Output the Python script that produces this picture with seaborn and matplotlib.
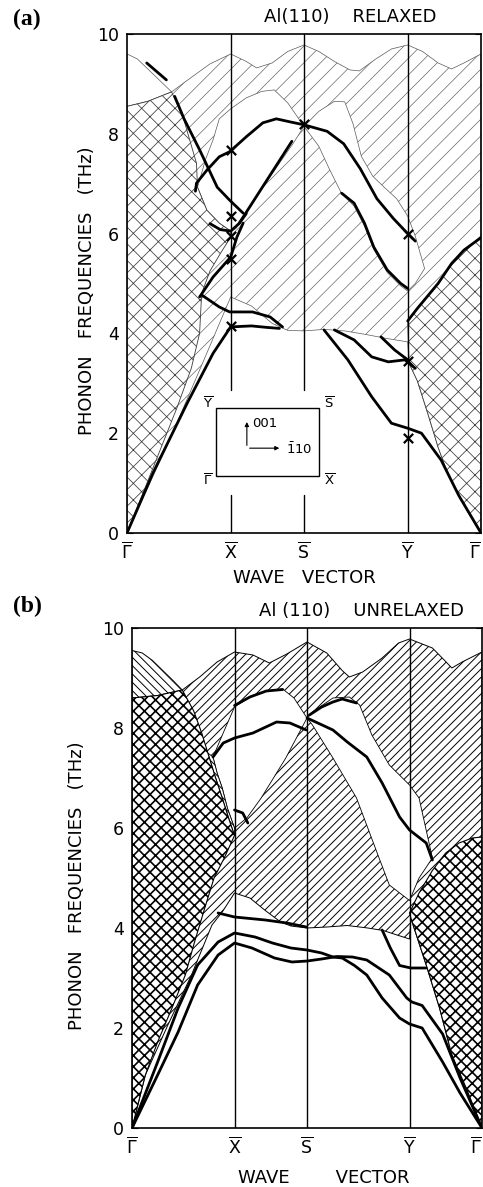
import numpy as np
import matplotlib
matplotlib.use("Agg")
import matplotlib.pyplot as plt
import seaborn as sns
from matplotlib.patches import Rectangle

# ---------------- symmetry points (surface Brillouin zone path) ----------------
K_LABELS = [r"$\overline{\Gamma}$", r"$\overline{\mathrm{X}}$", r"$\overline{\mathrm{S}}$",
            r"$\overline{\mathrm{Y}}$", r"$\overline{\Gamma}$"]
K_POS = [0.0, 1.0, 1.707, 2.707, 3.414]
Y_MAJOR = [0, 2, 4, 6, 8, 10]
Y_MINOR = [1, 3, 5, 7, 9]

# ================= Panel (a): relaxed =================
A_TOP_X = [0.43, 0.6, 0.8, 1.0, 1.15, 1.25, 1.4, 1.55, 1.707, 1.85, 2.0, 2.15, 2.24, 2.4, 2.55,
           2.707, 2.85, 3.0, 3.13, 3.25, 3.414]
A_TOP_Y = [8.84, 9.1, 9.4, 9.6, 9.45, 9.32, 9.42, 9.65, 9.78, 9.65, 9.45, 9.28, 9.26, 9.5, 9.7,
           9.78, 9.65, 9.42, 9.3, 9.42, 9.6]
A_SLASH_LOW_X = [0, 0.41, 0.73, 1.0, 1.2, 1.4, 1.55, 1.707, 1.9, 2.1, 2.3, 2.5, 2.707, 2.72, 2.8,
                 2.9, 3.0, 3.1, 3.2, 3.3, 3.414]
A_SLASH_LOW_Y = [0, 1.86, 3.41, 4.73, 4.55, 4.2, 4.06, 4.05, 4.08, 4.05, 3.98, 3.9, 3.83, 3.4, 3.05,
                 2.4, 1.72, 1.15, 0.75, 0.38, 0]
A_XL_UP_X = [0, 0.2, 0.43, 0.54, 0.67, 0.68, 0.77, 0.89, 1.0]
A_XL_UP_Y = [8.55, 8.65, 8.84, 8.34, 7.41, 6.93, 6.47, 6.21, 6.05]
A_XL_LO_X = [1.0, 0.9, 0.8, 0.72, 0.70, 0.62, 0.48, 0.25, 0]
A_XL_LO_Y = [5.93, 5.6, 5.25, 4.8, 4.0, 3.3, 2.5, 1.3, 0]
A_TL_X = [0, 0, 0.1, 0.2, 0.3, 0.43, 0.2]
A_TL_Y = [8.55, 9.6, 9.5, 9.3, 9.1, 8.84, 8.65]
A_GAP1_X = [0.68, 0.76, 0.83, 0.89, 1.0, 1.15, 1.3, 1.42, 1.55, 1.707, 1.6, 1.45, 1.3, 1.15, 1.05,
            1.0, 0.89, 0.77]
A_GAP1_Y = [6.93, 7.5, 7.88, 8.3, 8.5, 8.72, 8.85, 8.88, 8.62, 8.15, 7.8, 7.35, 6.9, 6.4, 6.1,
            6.05, 6.21, 6.47]
A_GAP2_X = [1.707, 1.85, 2.0, 2.1, 2.18, 2.26, 2.37, 2.48, 2.6, 2.707, 2.78, 2.87, 2.78, 2.707,
            2.64, 2.51, 2.38, 2.29, 2.19, 2.07, 1.95, 1.85]
A_GAP2_Y = [8.15, 8.45, 8.65, 8.64, 8.2, 7.55, 7.15, 6.93, 6.7, 6.35, 5.95, 5.3, 5.0, 4.85,
            4.95, 5.22, 5.68, 6.15, 6.55, 6.8, 7.3, 7.75]
A_XR_X = [2.707, 2.8, 2.9, 3.0, 3.13, 3.25, 3.414, 3.414, 3.3, 3.2, 3.1, 3.0, 2.9, 2.8, 2.72]
A_XR_Y = [4.25, 4.5, 4.75, 5.0, 5.4, 5.67, 5.92, 0, 0.38, 0.75, 1.15, 1.72, 2.4, 3.05, 3.4]

# surface-mode branches (a)
A_LINES = {
    "a1": ([0, 0.25, 0.58, 0.83, 1.0, 1.2, 1.35, 1.47], [0, 1.2, 2.6, 3.6, 4.13, 4.15, 4.12, 4.1]),
    "a2": ([1.9, 2.13, 2.36, 2.55, 2.707, 2.84, 3.03, 3.2, 3.414], [4.07, 3.47, 2.73, 2.2, 2.1, 2.0, 1.46, 0.75, 0]),
    "a3": ([2.0, 2.19, 2.36, 2.52, 2.68, 2.78], [4.07, 3.87, 3.53, 3.43, 3.47, 3.3]),
    "a3b": ([2.45, 2.58, 2.707], [3.93, 3.67, 3.47]),
    "a4": ([0.72, 0.89, 0.99, 1.21, 1.38, 1.5], [4.77, 4.53, 4.43, 4.43, 4.33, 4.13]),
    "a5": ([0.70, 0.83, 1.0, 1.06, 1.12], [4.73, 5.13, 5.53, 5.93, 6.21]),
    "a6": ([1.08, 1.59], [6.2, 7.85]),
    "a7": ([0.66, 0.67, 0.77, 0.89, 0.99, 1.15, 1.31, 1.44, 1.57, 1.707, 1.93, 2.09, 2.25, 2.41,
            2.57, 2.707, 2.78],
           [6.85, 7.01, 7.27, 7.54, 7.64, 7.94, 8.22, 8.3, 8.24, 8.18, 8.05, 7.8, 7.3, 6.7, 6.3, 6.0, 5.85]),
    "a8": ([0.46, 0.55, 0.70, 0.87, 0.99, 1.12], [8.75, 8.3, 7.68, 6.93, 6.67, 6.41]),
    "a8b": ([0.19, 0.38], [9.42, 9.08]),
    "a9": ([0.80, 0.9, 1.0, 1.08, 1.15], [6.2, 6.08, 6.05, 6.2, 6.4]),
    "a10": ([2.07, 2.19, 2.29, 2.38, 2.51, 2.64, 2.707], [6.81, 6.61, 6.21, 5.73, 5.27, 5.0, 4.9]),
    "a11": ([2.707, 2.8, 2.9, 3.0, 3.13, 3.25, 3.414], [4.25, 4.5, 4.75, 5.0, 5.4, 5.67, 5.92]),
}
A_MARK_X = [1.0, 1.0, 1.0, 1.0, 1.0, 1.707, 2.707, 2.707, 2.707]
A_MARK_Y = [7.68, 6.35, 5.95, 5.5, 4.15, 8.2, 6.0, 3.45, 1.9]
A_INSET_BOX = [0.856, 1.14, 1.0, 1.36]     # x0, y0, width, height
A_LINE_GAP = [0.77, 2.86]                  # X and S guide lines are broken around the inset

# ================= Panel (b): unrelaxed =================
B_TOP_X = [0.49, 0.66, 0.83, 1.0, 1.18, 1.34, 1.51, 1.707, 1.9, 2.05, 2.12, 2.25, 2.44, 2.6,
           2.707, 2.93, 3.05, 3.12, 3.22, 3.414]
B_TOP_Y = [8.76, 9.02, 9.32, 9.52, 9.46, 9.3, 9.48, 9.72, 9.5, 9.15, 9.02, 9.12, 9.4, 9.7,
           9.78, 9.6, 9.35, 9.2, 9.32, 9.52]
B_SLASH_LOW_X = [0, 0.13, 0.35, 0.58, 0.78, 0.88, 1.0, 1.15, 1.3, 1.45, 1.55, 1.707, 1.9, 2.1,
                 2.3, 2.45, 2.6, 2.707, 2.72, 2.87, 3.0, 3.12, 3.26, 3.414]
B_SLASH_LOW_Y = [0, 1.06, 2.06, 3.06, 4.06, 4.32, 4.7, 4.6, 4.35, 4.12, 4.04, 4.0, 4.02, 4.05,
                 4.0, 3.95, 3.85, 3.78, 4.2, 3.26, 2.4, 1.46, 0.8, 0]
B_XL_UP_X = [0, 0.25, 0.49, 0.6, 0.68, 0.74, 0.8, 0.88, 0.95, 1.0]
B_XL_UP_Y = [8.6, 8.65, 8.76, 8.35, 7.9, 7.5, 7.1, 6.6, 6.15, 5.85]
B_XL_LO_X = [0.9, 0.8, 0.71, 0.61, 0.52, 0.39, 0.25, 0.13, 0]
B_XL_LO_Y = [5.4, 5.0, 4.4, 3.72, 3.06, 2.4, 1.72, 1.06, 0]
B_TL_X = [0, 0, 0.1, 0.2, 0.3, 0.4, 0.49, 0.25]
B_TL_Y = [8.6, 9.55, 9.5, 9.35, 9.15, 8.95, 8.76, 8.65]
B_LENS_X = [0.74, 0.8, 0.88, 0.95, 1.0, 1.0, 0.93, 0.88, 0.83, 0.79]
B_LENS_Y = [7.5, 7.1, 6.6, 6.15, 5.85, 6.0, 6.4, 6.8, 7.1, 7.42]
B_GAP1_X = [0.79, 0.9, 1.0, 1.15, 1.31, 1.47, 1.58, 1.707, 1.5, 1.26, 1.12, 1.0, 0.93, 0.88, 0.83]
B_GAP1_Y = [7.42, 7.95, 8.42, 8.62, 8.74, 8.78, 8.6, 8.2, 7.4, 6.6, 6.2, 6.0, 6.4, 6.8, 7.1]
B_GAP2_X = [1.707, 1.76, 1.96, 2.12, 2.22, 2.34, 2.51, 2.707, 2.8, 2.93, 2.8, 2.707, 2.51, 2.41,
            2.19, 1.96, 1.76]
B_GAP2_Y = [8.2, 8.32, 8.6, 8.62, 8.46, 7.86, 7.26, 6.86, 6.6, 5.4, 5.0, 4.55, 4.86, 5.4,
            6.6, 7.4, 8.06]
B_XR_X = [2.707, 2.8, 2.93, 3.06, 3.19, 3.32, 3.414, 3.414, 3.26, 3.12, 3.0, 2.87, 2.72]
B_XR_Y = [4.3, 4.7, 5.15, 5.5, 5.7, 5.8, 5.82, 0, 0.8, 1.46, 2.4, 3.26, 4.2]

B_LINES = {
    "b1": ([1.0, 1.15, 1.31, 1.47], [8.45, 8.62, 8.74, 8.77]),
    "b2": ([1.73, 1.85, 1.96, 2.05, 2.19], [8.26, 8.42, 8.52, 8.58, 8.5]),
    "b3": ([0.79, 0.89, 1.0, 1.18, 1.41, 1.54, 1.70], [7.42, 7.7, 7.8, 7.9, 8.12, 8.1, 7.96]),
    "b4": ([1.707, 1.96, 2.1, 2.29, 2.44, 2.61, 2.707, 2.87, 2.93],
           [8.2, 7.96, 7.72, 7.42, 6.9, 6.22, 5.96, 5.7, 5.36]),
    "b5": ([1.0, 1.08, 1.13], [6.36, 6.3, 6.1]),
    "b6a": ([0.84, 1.0, 1.3, 1.51, 1.70], [4.3, 4.22, 4.16, 4.1, 4.02]),
    "b6b": ([2.44, 2.52, 2.61, 2.72, 2.87], [3.96, 3.6, 3.25, 3.2, 3.2]),
    "b7": ([0, 0.25, 0.45, 0.64, 0.84, 1.0, 1.2, 1.37, 1.55, 1.707, 1.85, 1.96, 2.05, 2.17, 2.29,
            2.44, 2.61, 2.707, 2.83, 3.03, 3.2, 3.414],
           [0, 1.32, 2.4, 3.26, 3.72, 3.9, 3.82, 3.7, 3.6, 3.56, 3.5, 3.42, 3.4, 3.25, 3.06,
            2.6, 2.2, 2.08, 2.0, 1.32, 0.7, 0]),
    "b8": ([0, 0.25, 0.45, 0.64, 0.84, 1.0, 1.17, 1.39, 1.56, 1.71, 1.85, 2.0, 2.15, 2.29, 2.51,
            2.68, 2.73, 2.83, 3.03, 3.2, 3.414],
           [0, 1.06, 1.92, 2.86, 3.46, 3.7, 3.6, 3.4, 3.32, 3.34, 3.38, 3.43, 3.42, 3.36, 3.06,
            2.6, 2.52, 2.45, 1.88, 1.0, 0]),
}

# ---------------- figure ----------------
sns.set_style("white")
plt.rcParams["font.family"] = ["DejaVu Sans"]
plt.rcParams["mathtext.fontset"] = "dejavusans"
for key in ["text.color", "axes.labelcolor", "xtick.color", "ytick.color", "axes.edgecolor"]:
    plt.rcParams[key] = "black"

fig = plt.figure(figsize=(4.83, 11.87), dpi=100)
axA = fig.add_axes([127 / 483, 654 / 1187, 354 / 483, 499 / 1187])
axB = fig.add_axes([132 / 483, 59 / 1187, 350 / 483, 500 / 1187])


def region(ax, xs, ys, hatch, ec, lw, hlw, z):
    with plt.rc_context({"hatch.linewidth": hlw}):
        p = ax.fill(xs, ys, facecolor="white", edgecolor=ec, hatch=hatch,
                    linewidth=lw, zorder=z)[0]
    if hasattr(p, "set_hatch_linewidth"):
        p.set_hatch_linewidth(hlw)
    return p


def curves(ax, lines, lw):
    for name, (xs, ys) in lines.items():
        sns.lineplot(x=xs, y=ys, ax=ax, sort=False, estimator=None, color="black",
                     linewidth=lw, zorder=6, legend=False)


def style_axes(ax, title, title_x, xlabel, xlabel_y, ylabel_x):
    ax.set_xlim(K_POS[0], K_POS[-1])
    ax.set_ylim(0, 10)
    ax.set_xticks(K_POS)
    ax.set_xticklabels(K_LABELS, fontsize=12.5)
    ax.get_xticklabels()[-1].set_ha("right")
    ax.set_yticks(Y_MAJOR)
    ax.set_yticks(Y_MINOR, minor=True)
    ax.set_yticklabels([str(v) for v in Y_MAJOR], fontsize=12.5)
    ax.tick_params(axis="x", length=0, pad=6)
    ax.tick_params(axis="y", which="both", direction="in", length=4, width=0.8,
                   left=True, right=True, pad=6)
    for s in ax.spines.values():
        s.set_color("black")
        s.set_linewidth(1.2)
        s.set_zorder(8)
    ax.set_ylabel("PHONON   FREQUENCIES   (THz)", fontsize=13)
    ax.yaxis.set_label_coords(ylabel_x, 0.485)
    ax.yaxis.label.set_va("center")
    ax.set_xlabel(xlabel, fontsize=13)
    ax.xaxis.set_label_coords(0.5 if xlabel_y > -0.095 else 0.547, xlabel_y)
    ax.xaxis.label.set_va("center")
    ax.text(title_x, 1.035, title, transform=ax.transAxes, ha="center", va="center",
            fontsize=13)


# ---------- panel (a) ----------
greyA = "#5a5a5a"
region(axA, A_XL_UP_X[:3] + A_TOP_X[1:] + A_SLASH_LOW_X[::-1],
       A_XL_UP_Y[:3] + A_TOP_Y[1:] + A_SLASH_LOW_Y[::-1], "//", greyA, 0.5, 0.45, 1)
region(axA, A_TL_X, A_TL_Y, None, greyA, 0.5, 0.45, 2)
region(axA, A_GAP1_X, A_GAP1_Y, None, greyA, 0.5, 0.45, 2)
region(axA, A_GAP2_X, A_GAP2_Y, None, greyA, 0.5, 0.45, 2)
region(axA, A_XL_UP_X + A_XL_LO_X, A_XL_UP_Y + A_XL_LO_Y, "xx", "#3a3a3a", 0.6, 0.55, 3)
region(axA, A_XR_X, A_XR_Y, "xx", "#3a3a3a", 0.6, 0.55, 3)

g0, g1 = A_LINE_GAP[0] / 10, A_LINE_GAP[1] / 10
for kx in K_POS[1:3]:
    axA.axvline(kx, ymin=0, ymax=g0, color="black", lw=1.0, zorder=5)
    axA.axvline(kx, ymin=g1, ymax=1, color="black", lw=1.0, zorder=5)
axA.axvline(K_POS[3], color="black", lw=1.0, zorder=5)

curves(axA, A_LINES, 2.0)
axA.scatter(A_MARK_X, A_MARK_Y, marker="x", s=45, linewidths=1.6, color="black", zorder=7)

bx, by, bw, bh = A_INSET_BOX
axA.add_patch(Rectangle((bx, by), bw, bh, fill=True, facecolor="white", edgecolor="black",
                        lw=1.0, zorder=7))
axA.text(bx - 0.03, by + bh + 0.1, r"$\overline{\mathrm{Y}}$", ha="right", va="center", fontsize=9.5, zorder=8)
axA.text(bx + bw + 0.04, by + bh + 0.1, r"$\overline{\mathrm{S}}$", ha="left", va="center", fontsize=9.5, zorder=8)
axA.text(bx - 0.03, by - 0.1, r"$\overline{\Gamma}$", ha="right", va="center", fontsize=9.5, zorder=8)
axA.text(bx + bw + 0.04, by - 0.1, r"$\overline{\mathrm{X}}$", ha="left", va="center", fontsize=9.5, zorder=8)
ox, oy = bx + 0.3, by + 0.56
axA.annotate("", xy=(ox, oy + 0.58), xytext=(ox, oy),
             arrowprops=dict(arrowstyle="-|>", lw=0.8, color="black", mutation_scale=6), zorder=8)
axA.annotate("", xy=(ox + 0.34, oy), xytext=(ox, oy),
             arrowprops=dict(arrowstyle="-|>", lw=0.8, color="black", mutation_scale=6), zorder=8)
axA.text(ox + 0.05, oy + 0.5, "001", ha="left", va="center", fontsize=9.5, zorder=8)
axA.text(ox + 0.38, oy - 0.03, r"$\bar{1}$10", ha="left", va="center", fontsize=9.5, zorder=8)

style_axes(axA, "Al(110)    RELAXED", 0.63, "WAVE   VECTOR", -0.09, -0.113)

# ---------- panel (b) ----------
region(axB, B_XL_UP_X[:3] + B_TOP_X[1:] + B_SLASH_LOW_X[::-1],
       B_XL_UP_Y[:3] + B_TOP_Y[1:] + B_SLASH_LOW_Y[::-1], "////", "black", 0.7, 0.7, 1)
region(axB, B_TL_X, B_TL_Y, "\\\\\\\\", "black", 0.7, 0.7, 2)
region(axB, B_GAP1_X, B_GAP1_Y, None, "black", 0.6, 0.7, 2)
region(axB, B_GAP2_X, B_GAP2_Y, None, "black", 0.6, 0.7, 2)
region(axB, B_LENS_X, B_LENS_Y, "\\\\\\\\", "black", 0.6, 0.7, 2)
region(axB, B_XL_UP_X + B_XL_LO_X, B_XL_UP_Y + B_XL_LO_Y, "xxx", "black", 0.8, 1.2, 3)
region(axB, B_XR_X, B_XR_Y, "xxx", "black", 0.8, 1.2, 3)

for kx in K_POS[1:4]:
    axB.axvline(kx, color="black", lw=1.0, zorder=5)
curves(axB, B_LINES, 2.0)

style_axes(axB, "Al (110)    UNRELAXED", 0.655, "WAVE        VECTOR", -0.1, -0.157)

fig.text(27 / 483, 1 - 19 / 1187, "(a)", family=["Liberation Serif", "DejaVu Serif"],
         fontsize=17, ha="center", va="center", fontweight="bold")
fig.text(27 / 483, 1 - 606 / 1187, "(b)", family=["Liberation Serif", "DejaVu Serif"],
         fontsize=17, ha="center", va="center", fontweight="bold")

fig.savefig("out.png", dpi=100, facecolor="white")
